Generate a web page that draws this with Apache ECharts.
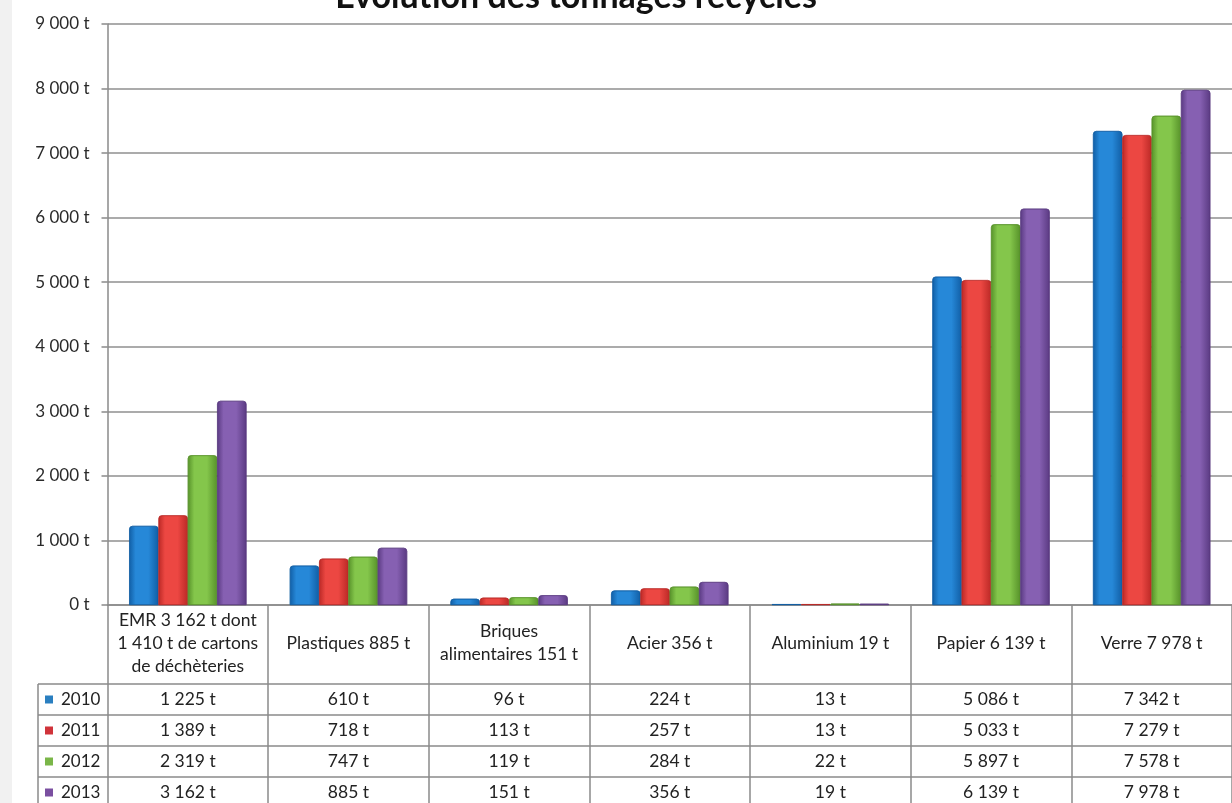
<!DOCTYPE html>
<html>
<head>
<meta charset="utf-8">
<script src="https://cdn.jsdelivr.net/npm/echarts@6/dist/echarts.min.js"></script>
<style>
  html, body { margin: 0; padding: 0; background: #fff; }
  #chart { width: 1232px; height: 803px; }
</style>
</head>
<body>
<div id="chart"></div>
<script>
// catégories (libellés du tableau)
const categories = [
  'EMR 3 162 t dont\n1 410 t de cartons\nde déchèteries',
  'Plastiques 885 t',
  'Briques\nalimentaires 151 t',
  'Acier 356 t',
  'Aluminium 19 t',
  'Papier 6 139 t',
  'Verre 7 978 t'
]
const years = ['2010', '2011', '2012', '2013']
const t2010 = [1225, 610, 96, 224, 13, 5086, 7342]
const t2011 = [1389, 718, 113, 257, 13, 5033, 7279]
const t2012 = [2319, 747, 119, 284, 22, 5897, 7578]
const t2013 = [3162, 885, 151, 356, 19, 6139, 7978]
const yTicks = [0, 1000, 2000, 3000, 4000, 5000, 6000, 7000, 8000, 9000]

const seriesData = [t2010, t2011, t2012, t2013]
const colors = [
  { mid: '#2688d8', edge: '#115ea5', key: '#2a7fc0' },
  { mid: '#ec4742', edge: '#bb2926', key: '#d0333a' },
  { mid: '#84c64b', edge: '#57922a', key: '#7ab648' },
  { mid: '#8660b2', edge: '#5a3a82', key: '#7a4fa0' }
]

const fmt = v => String(v).replace(/\B(?=(\d{3})+(?!\d))/g, ' ') + ' t'
const FONT = 'Lato, "Open Sans", sans-serif'

const chart = echarts.init(document.getElementById('chart'))

const gridTop = 24
const gridH = 581
const gridLeft = 107.5
const catW = 162.4
const rowTop = gridTop + gridH + 79
const rowH = 31
const tableBottom = 803
const lineCol = '#8a8a8a'

const option = {
  backgroundColor: '#fff',
  animation: false,
  grid: { left: gridLeft, top: gridTop, width: catW * categories.length, height: gridH },
  xAxis: {
    type: 'category',
    data: categories,
    axisLine: { show: true, lineStyle: { color: lineCol, width: 1.5 } },
    axisTick: { show: true, length: tableBottom - gridTop - gridH, lineStyle: { color: lineCol, width: 1.5 } },
    axisLabel: {
      interval: 0,
      margin: 38,
      verticalAlign: 'middle',
      lineHeight: 23,
      fontFamily: FONT,
      fontSize: 17.5,
      color: '#222'
    }
  },
  yAxis: {
    type: 'value',
    min: 0,
    max: 9000,
    interval: 1000,
    axisLine: { show: true, lineStyle: { color: lineCol, width: 1.5 } },
    axisTick: { show: true, length: 6, lineStyle: { color: lineCol, width: 1.5 } },
    splitLine: { lineStyle: { color: '#8f8f8f', width: 1.5 } },
    axisLabel: {
      margin: 18,
      fontFamily: FONT,
      fontSize: 17,
      color: '#2a2a2a',
      formatter: v => yTicks.includes(v) ? fmt(v) : ''
    }
  },
  series: seriesData.map((d, i) => ({
    name: years[i],
    type: 'bar',
    data: d,
    barGap: '0%',
    barCategoryGap: '27%',
    itemStyle: {
      borderColor: colors[i].edge,
      borderWidth: 0.6,
      borderRadius: [3, 3, 0, 0],
      color: {
        type: 'linear', x: 0, y: 0, x2: 1, y2: 0,
        colorStops: [
          { offset: 0, color: colors[i].edge },
          { offset: 0.22, color: colors[i].mid },
          { offset: 0.65, color: colors[i].mid },
          { offset: 1, color: colors[i].edge }
        ]
      }
    }
  }))
}

chart.setOption(option)

// tableau de données sous le graphique
const graphic = [
  { type: 'rect', shape: { x: 0, y: 0, width: 12, height: 803 }, style: { fill: '#f1f1f1' }, silent: true },
  {
    type: 'text',
    x: 576, y: 14,
    style: {
      text: 'Évolution des tonnages recyclés',
      font: 'bold 34px ' + FONT,
      fill: '#111',
      textAlign: 'center',
      textVerticalAlign: 'bottom'
    }
  },
  { type: 'line', shape: { x1: 38, y1: rowTop, x2: 38, y2: tableBottom }, style: { stroke: lineCol, lineWidth: 1.5 } }
]
years.forEach((y, r) => {
  const yTop = rowTop + r * rowH
  graphic.push({ type: 'line', shape: { x1: 38, y1: yTop, x2: 1232, y2: yTop }, style: { stroke: lineCol, lineWidth: 1.5 } })
  graphic.push({ type: 'rect', shape: { x: 45, y: yTop + rowH / 2 - 4, width: 8, height: 8 }, style: { fill: colors[r].key } })
  graphic.push({
    type: 'text', x: 61, y: yTop + rowH / 2,
    style: { text: y, font: '17px ' + FONT, fill: '#222', textVerticalAlign: 'middle' }
  })
  seriesData[r].forEach((v, c) => {
    const px = chart.convertToPixel({ xAxisIndex: 0 }, c)
    graphic.push({
      type: 'text', x: px, y: yTop + rowH / 2,
      style: { text: fmt(v), font: '17.5px ' + FONT, fill: '#222', textAlign: 'center', textVerticalAlign: 'middle' }
    })
  })
})

chart.setOption({ graphic })
</script>
</body>
</html>
